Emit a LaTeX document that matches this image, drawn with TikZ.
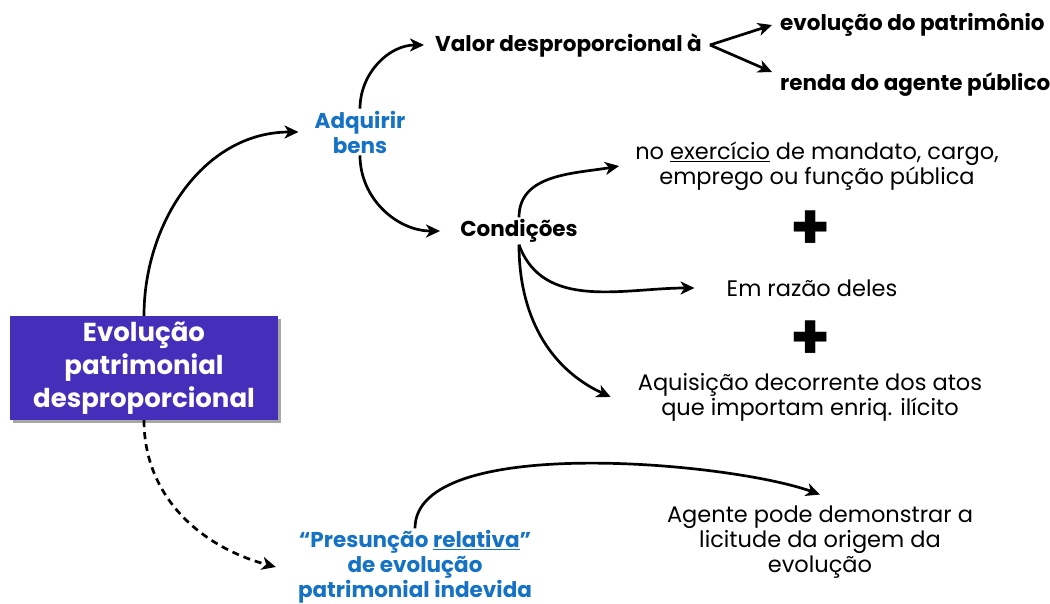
\documentclass[tikz,border=0pt]{standalone}
\usepackage{fontspec}
\setmainfont{Poppins}
\usetikzlibrary{arrows.meta,shadows}
\definecolor{boxpurple}{RGB}{69,46,185}
\definecolor{tblue}{RGB}{22,114,196}
\begin{document}
\begin{tikzpicture}[x=1pt,y=1pt,
  conn/.style={line width=2.7pt,-{Stealth[length=14pt,width=13pt,inset=4pt]}},
  rtext/.style={font=\fontsize{22.5}{25}\selectfont, align=center, inner sep=2pt},
  btext/.style={font=\bfseries\fontsize{21.5}{25}\selectfont, align=center, inner sep=2pt},
  bluetext/.style={btext, text=tblue},
  plustext/.style={font=\bfseries\fontsize{64}{64}\selectfont, inner sep=0pt},
  mainbox/.style={fill=boxpurple, text=white, minimum width=268pt, minimum height=104pt, align=center, font=\bfseries\fontsize{26}{33}\selectfont, drop shadow={shadow xshift=3pt,shadow yshift=-3pt,fill=black,opacity=0.35}}]
\useasboundingbox (0,0) rectangle (1050,-604);
\node[mainbox] (evo) at (144,-368) {Evolução\\patrimonial\\desproporcional};
\node[bluetext] (adq) at (360,-132) {Adquirir\\bens};
\node[btext, anchor=west] (valor) at (433,-45) {Valor desproporcional à};
\node[btext, anchor=west] (evpat) at (778,-25) {evolução do patrimônio};
\node[btext, anchor=west] (renda) at (778,-85) {renda do agente público};
\node[btext] (cond) at (519,-231) {Condições};
\node[rtext] (exerc) at (817,-166) {no \underline{exercício} de mandato, cargo,\\emprego ou função pública};
\node[plustext] (p1) at (811,-230) {+};
\node[rtext] (razao) at (812,-288) {Em razão deles};
\node[plustext] (p2) at (811,-340) {+};
\node[rtext] (aquis) at (810,-397) {Aquisição decorrente dos atos\\que importam enriq. ilícito};
\node[bluetext] (pres) at (415,-567) {“Presunção \underline{relativa}”\\de evolução\\patrimonial indevida};
\node[rtext] (agente) at (820,-542) {Agente pode demonstrar a\\licitude da origem da\\evolução};

\draw[conn] (evo.north) to[out=90,in=180] ([xshift=-14pt]adq.west);
\draw[conn] (adq.north) to[out=90,in=180] ([xshift=-9pt]valor.west);
\draw[conn] ([xshift=6pt]valor.east) -- ([xshift=-6pt]evpat.west);
\draw[conn] ([xshift=6pt]valor.east) -- ([xshift=-6pt,yshift=13pt]renda.west);
\draw[conn] (adq.south) to[out=-90,in=180] ([xshift=-18pt]cond.west);
\draw[conn] (cond.north) to[out=90,in=190] ([xshift=-14pt]exerc.west);
\draw[conn] (cond.south) to[out=-70,in=180] ([xshift=-30pt]razao.west);
\draw[conn] (cond.south) to[out=-90,in=155] ([xshift=-25pt]aquis.west);
\draw[conn, dash pattern=on 7pt off 5pt] (evo.south) to[out=-90,in=165] ([xshift=-20pt]pres.west);
\draw[conn] (pres.north) to[out=90,in=160,looseness=0.6] ([yshift=9pt]agente.north);
\end{tikzpicture}
\end{document}
